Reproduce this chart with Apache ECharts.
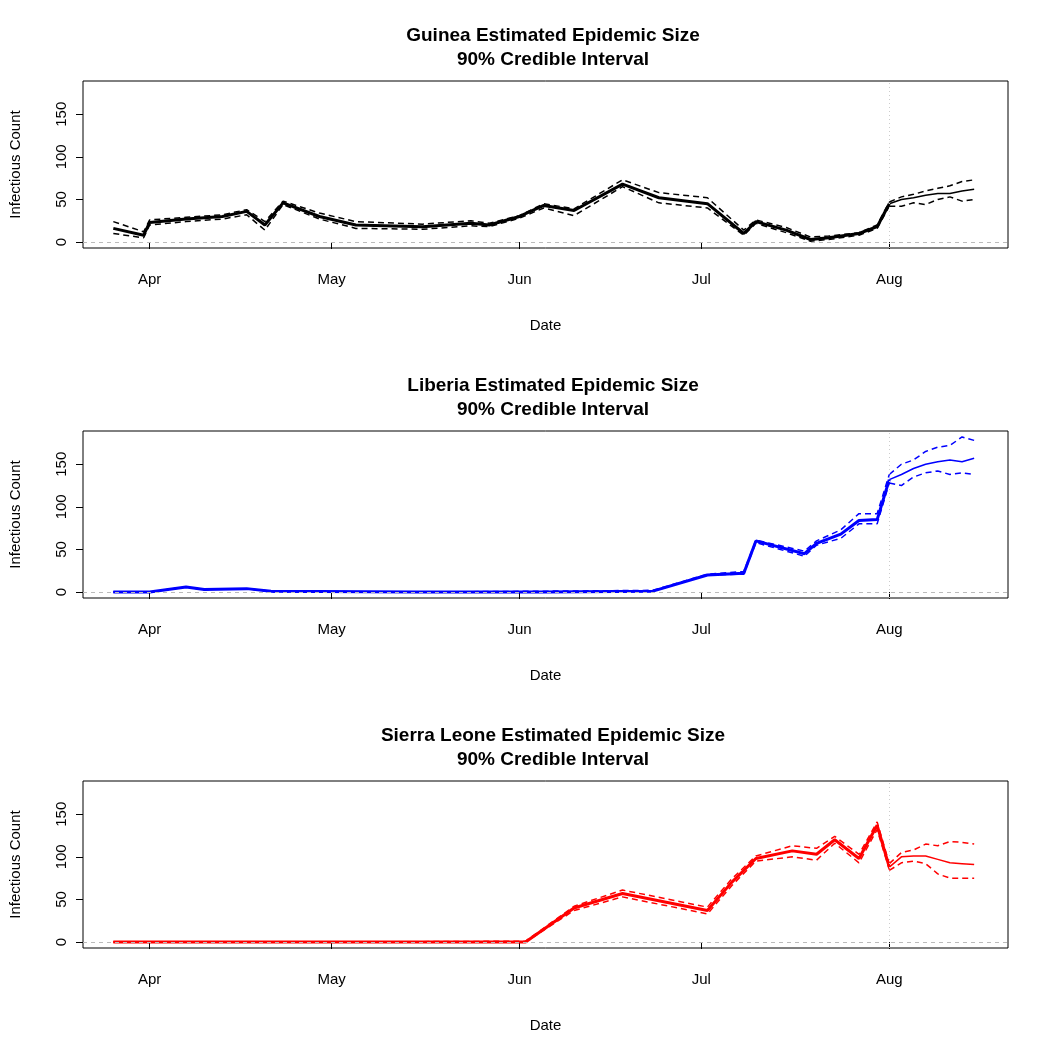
<!DOCTYPE html>
<html>
<head>
<meta charset="utf-8">
<script src="https://cdn.jsdelivr.net/npm/echarts@6/dist/echarts.min.js"></script>
<style>html,body{margin:0;padding:0;background:#fff}#main{width:1050px;height:1050px}</style>
</head>
<body>
<div id="main"></div>
<script>
var countries = ['Guinea', 'Liberia', 'Sierra Leone'];
var colors = ['#000000', '#0000ff', '#ff0000'];
var monthTicks = ['2014-04-01', '2014-05-01', '2014-06-01', '2014-07-01', '2014-08-01'];
var monthLabels = ['Apr', 'May', 'Jun', 'Jul', 'Aug'];
var yTicks = [0, 50, 100, 150];

// fitted history
var gDates = ['2014-03-26','2014-03-31','2014-04-01','2014-04-07','2014-04-13','2014-04-17','2014-04-20','2014-04-23','2014-04-29','2014-05-05','2014-05-16','2014-05-24','2014-05-27','2014-06-01','2014-06-05','2014-06-10','2014-06-18','2014-06-24','2014-07-02','2014-07-08','2014-07-10','2014-07-15','2014-07-19','2014-07-22','2014-07-27','2014-07-30','2014-08-01'];
var gMean = [16, 8, 23, 27, 30, 36, 20, 46, 30, 20, 18, 22, 20, 30, 43, 37, 68, 52, 45, 10, 24, 14, 3, 5, 10, 18, 45];
var gLo   = [10, 5, 20, 24, 27, 32, 14, 44, 27, 16, 15, 19, 18, 28, 40, 31, 65, 46, 40, 8, 22, 11, 1, 3, 8, 16, 42];
var gHi   = [24, 12, 26, 29, 32, 38, 24, 48, 34, 24, 21, 25, 22, 31, 45, 39, 73, 58, 52, 14, 26, 17, 6, 7, 11, 20, 47];
var lDates = ['2014-03-26','2014-04-01','2014-04-07','2014-04-10','2014-04-17','2014-04-21','2014-05-15','2014-06-05','2014-06-23','2014-07-02','2014-07-08','2014-07-10','2014-07-18','2014-07-20','2014-07-24','2014-07-27','2014-07-30','2014-08-01'];
var lMean = [0, 0, 6, 3, 4, 1, 0, 0, 1, 20, 22, 60, 45, 57, 68, 84, 85, 132];
var lLo   = [0, 0, 6, 3, 4, 0, 0, 0, 1, 20, 21, 58, 42, 55, 63, 80, 80, 128];
var lHi   = [0, 0, 6, 3, 4, 1, 0, 1, 2, 21, 24, 61, 48, 60, 73, 92, 92, 138];
var sDates = ['2014-03-26','2014-05-01','2014-06-02','2014-06-10','2014-06-18','2014-07-02','2014-07-06','2014-07-10','2014-07-16','2014-07-20','2014-07-23','2014-07-27','2014-07-30','2014-08-01'];
var sMean = [0, 0, 0, 40, 57, 37, 70, 98, 107, 103, 120, 98, 137, 88];
var sLo   = [0, 0, 0, 37, 53, 33, 66, 95, 100, 96, 116, 93, 132, 85];
var sHi   = [0, 0, 1, 42, 61, 41, 74, 101, 113, 110, 124, 103, 141, 92];

// forecasts
var fDates = ['2014-08-01','2014-08-03','2014-08-05','2014-08-07','2014-08-09','2014-08-11','2014-08-13','2014-08-15'];
var gfMean = [45, 50, 52, 55, 57, 57, 60, 62];
var gfLo   = [42, 42, 46, 44, 50, 53, 48, 50];
var gfHi   = [47, 53, 56, 60, 63, 66, 71, 73];
var lfMean = [132, 138, 145, 150, 153, 155, 153, 157];
var lfLo   = [128, 125, 135, 140, 142, 138, 140, 138];
var lfHi   = [138, 150, 155, 165, 170, 172, 182, 178];
var sfMean = [88, 100, 101, 101, 97, 93, 92, 91];
var sfLo   = [84, 93, 95, 92, 80, 75, 75, 75];
var sfHi   = [92, 105, 108, 115, 113, 118, 117, 115];

var hist = [[gDates, gMean, gLo, gHi], [lDates, lMean, lLo, lHi], [sDates, sMean, sLo, sHi]];
var fore = [[gfMean, gfLo, gfHi], [lfMean, lfLo, lfHi], [sfMean, sfLo, sfHi]];

function ts(d) { return +new Date(d + 'T00:00:00Z'); }
function pairs(d, v) { return d.map(function (x, i) { return [ts(x), v[i]]; }); }

var font = 'Liberation Sans, Arial, sans-serif';
var tops = [81, 431, 781];
var grids = [], xAxes = [], yAxes = [], titles = [], series = [];
var tickTs = monthTicks.map(ts);

countries.forEach(function (name, i) {
  grids.push({ left: 80, right: 42, top: tops[i], height: 167, show: true, borderColor: '#000', borderWidth: 1, backgroundColor: 'transparent' });
  titles.push({
    text: name + ' Estimated Epidemic Size\n90% Credible Interval',
    left: 548, top: tops[i] - 62, textAlign: 'center',
    textStyle: { fontFamily: font, fontSize: 19, fontWeight: 'bold', color: '#000', lineHeight: 24 }
  });
  xAxes.push({
    type: 'value', gridIndex: i,
    min: ts('2014-03-21'), max: ts('2014-08-20') + 14 * 3600000,
    name: 'Date', nameLocation: 'middle', nameGap: 70,
    nameTextStyle: { fontFamily: font, fontSize: 15, color: '#000' },
    axisLine: { show: false },
    axisTick: { show: true, length: 7, customValues: tickTs, lineStyle: { color: '#000' } },
    axisLabel: { customValues: tickTs, margin: 24, fontFamily: font, fontSize: 15, color: '#000',
      formatter: function (v) { return monthLabels[tickTs.indexOf(v)] || ''; } },
    splitLine: { show: false }
  });
  yAxes.push({
    type: 'value', gridIndex: i, min: -7, max: 189,
    name: 'Infectious Count', nameLocation: 'middle', nameGap: 60,
    nameTextStyle: { fontFamily: font, fontSize: 15, color: '#000' },
    axisLine: { show: false },
    axisTick: { show: true, length: 7, customValues: yTicks, lineStyle: { color: '#000' } },
    axisLabel: { customValues: yTicks, rotate: 90, margin: 14, fontFamily: font, fontSize: 15, color: '#000' },
    splitLine: { show: false }
  });
  var h = hist[i], f = fore[i], c = colors[i];
  var base = { type: 'line', xAxisIndex: i, yAxisIndex: i, symbol: 'none', silent: true, animation: false };
  series.push(Object.assign({}, base, {
    data: pairs(h[0], h[1]), lineStyle: { color: c, width: 3 }, z: 3,
    markLine: { symbol: 'none', silent: true, label: { show: false },
      lineStyle: { color: '#bbbbbb', width: 1, type: [4, 4] },
      data: [{ yAxis: 0 }, { xAxis: ts('2014-08-01'), lineStyle: { color: '#cccccc', type: [1, 3] } }] }
  }));
  series.push(Object.assign({}, base, { data: pairs(h[0], h[2]), lineStyle: { color: c, width: 1.5, type: [6, 4] } }));
  series.push(Object.assign({}, base, { data: pairs(h[0], h[3]), lineStyle: { color: c, width: 1.5, type: [6, 4] } }));
  series.push(Object.assign({}, base, { data: pairs(fDates, f[0]), lineStyle: { color: c, width: 1.5 } }));
  series.push(Object.assign({}, base, { data: pairs(fDates, f[1]), lineStyle: { color: c, width: 1.5, type: [6, 4] } }));
  series.push(Object.assign({}, base, { data: pairs(fDates, f[2]), lineStyle: { color: c, width: 1.5, type: [6, 4] } }));
});

var myChart = echarts.init(document.getElementById('main'));
myChart.setOption({
  backgroundColor: '#fff', animation: false,
  title: titles, grid: grids, xAxis: xAxes, yAxis: yAxes, series: series
});
</script>
</body>
</html>
